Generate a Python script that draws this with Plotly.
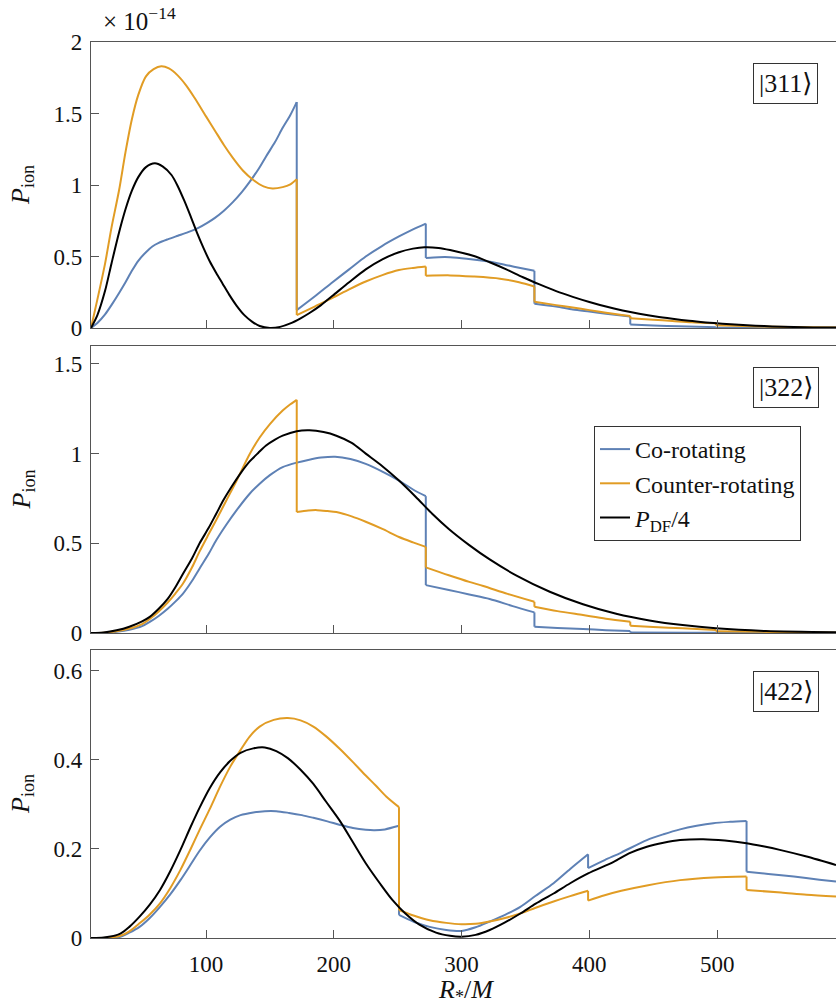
import plotly.graph_objects as go

# ---------------- data ----------------
# |311> state
r311_co = [10, 15, 21, 26, 32, 37, 42, 47, 53, 58, 63, 70, 78, 86, 94, 101, 107, 114, 121, 128, 134, 141, 147, 154, 160, 166, 171,
           171, 185, 199, 212, 225, 238, 251, 262, 272,
           272, 282, 291, 304, 317, 330, 343, 357,
           357, 374, 387, 400, 413, 432,
           432, 450, 470, 499,
           499, 540, 593]
p311_co = [0.0, 0.035, 0.095, 0.16, 0.245, 0.32, 0.40, 0.47, 0.53, 0.57, 0.595, 0.62, 0.645, 0.67, 0.70, 0.735, 0.77, 0.82, 0.88, 0.95, 1.02, 1.11, 1.20, 1.30, 1.40, 1.49, 1.58,
           0.125, 0.22, 0.32, 0.41, 0.50, 0.575, 0.64, 0.69, 0.73,
           0.49, 0.495, 0.495, 0.485, 0.47, 0.45, 0.425, 0.40,
           0.17, 0.15, 0.13, 0.115, 0.10, 0.08,
           0.025, 0.018, 0.012, 0.006,
           0.002, 0.001, 0.0]

r311_ctr = [10, 15, 21, 26, 32, 37, 42, 47, 53, 59, 65, 71, 78, 85, 91, 100, 107, 114, 121, 129, 137, 145, 152, 160, 166, 171,
            171, 185, 199, 212, 225, 238, 251, 262, 272,
            272, 291, 309, 330, 345, 357,
            357, 374, 387, 400, 413, 432,
            432, 450, 465, 480, 499,
            499, 520, 543, 570, 593]
p311_ctr = [0.0, 0.2, 0.45, 0.70, 0.965, 1.23, 1.46, 1.63, 1.76, 1.81, 1.83, 1.815, 1.765, 1.69, 1.61, 1.48, 1.38, 1.28, 1.19, 1.10, 1.035, 0.99, 0.975, 0.985, 1.005, 1.04,
            0.09, 0.15, 0.21, 0.27, 0.325, 0.37, 0.405, 0.42, 0.43,
            0.365, 0.368, 0.36, 0.345, 0.32, 0.29,
            0.184, 0.16, 0.143, 0.125, 0.107, 0.084,
            0.068, 0.058, 0.049, 0.04, 0.033,
            0.02, 0.014, 0.009, 0.005, 0.003]

r311_df = [10, 15, 21, 26, 32, 37, 42, 47, 53, 60, 66, 73, 78, 83, 88, 93, 98, 103, 108, 113, 118, 124, 130, 136, 142, 150, 158, 166, 174, 181, 190, 199,
           212, 225, 238, 251, 262, 271, 282, 291, 309, 322, 335, 348, 361, 374, 387, 400, 413, 426, 439, 452, 465, 478, 491,
           504, 517, 530, 543, 560, 575, 593]
p311_df = [0.0, 0.09, 0.26, 0.45, 0.67, 0.83, 0.96, 1.055, 1.125, 1.152, 1.13, 1.07, 0.99, 0.89, 0.78, 0.665, 0.56, 0.465, 0.385, 0.31, 0.235, 0.155, 0.09, 0.045, 0.014, 0.0, 0.008, 0.032, 0.068, 0.105, 0.16, 0.225,
           0.32, 0.41, 0.48, 0.53, 0.555, 0.565, 0.56, 0.545, 0.505, 0.46, 0.41, 0.355, 0.305, 0.258, 0.218, 0.182, 0.15, 0.123, 0.10, 0.08, 0.064, 0.05, 0.039,
           0.03, 0.022, 0.016, 0.011, 0.007, 0.004, 0.003]

# |322> state
r322_co = [10, 20, 30, 40, 50, 56, 63, 70, 76, 82, 89, 95, 102, 108, 116, 124, 134, 142, 150, 160, 171, 180, 190, 201, 213, 225, 238, 251, 262, 272,
           272, 290, 306, 322, 340, 357,
           357, 375, 395, 413, 432,
           432, 480, 593]
p322_co = [0.0, 0.001, 0.007, 0.018, 0.038, 0.062, 0.095, 0.135, 0.175, 0.22, 0.29, 0.36, 0.44, 0.517, 0.605, 0.685, 0.775, 0.832, 0.88, 0.925, 0.95, 0.965, 0.978, 0.983, 0.97, 0.943, 0.90, 0.85, 0.80, 0.763,
           0.267, 0.24, 0.215, 0.19, 0.15, 0.115,
           0.035, 0.028, 0.022, 0.016, 0.011,
           0.003, 0.002, 0.0]

r322_ctr = [10, 20, 30, 40, 50, 56, 63, 70, 76, 82, 89, 95, 102, 108, 116, 124, 134, 142, 150, 160, 166, 171,
            171, 180, 187, 195, 202, 214, 225, 238, 251, 262, 272,
            272, 290, 306, 317, 336, 357,
            357, 375, 395, 413, 432,
            432, 450, 473, 499,
            499, 540, 593]
p322_ctr = [0.0, 0.002, 0.01, 0.025, 0.05, 0.078, 0.12, 0.17, 0.22, 0.276, 0.365, 0.455, 0.55, 0.63, 0.74, 0.85, 0.995, 1.09, 1.165, 1.24, 1.275, 1.30,
            0.674, 0.683, 0.685, 0.68, 0.674, 0.65, 0.62, 0.58, 0.535, 0.505, 0.48,
            0.366, 0.322, 0.285, 0.262, 0.218, 0.174,
            0.146, 0.122, 0.10, 0.08, 0.063,
            0.041, 0.034, 0.026, 0.017,
            0.01, 0.006, 0.002]

r322_df = [10, 20, 30, 40, 50, 56, 63, 70, 76, 82, 89, 95, 102, 108, 114, 120, 127, 134, 141, 147, 154, 160, 171, 181, 192, 202, 214, 225, 238,
           251, 264, 277, 290, 306, 322, 343, 369, 395, 421, 447, 473, 499, 538, 593]
p322_df = [0.0, 0.003, 0.015, 0.035, 0.065, 0.09, 0.135, 0.19, 0.255, 0.33, 0.415, 0.50, 0.585, 0.665, 0.745, 0.815, 0.89, 0.955, 1.005, 1.045, 1.078, 1.10, 1.125, 1.13, 1.12, 1.10, 1.06, 1.00, 0.93,
           0.85, 0.76, 0.665, 0.58, 0.49, 0.41, 0.32, 0.23, 0.16, 0.107, 0.07, 0.044, 0.026, 0.011, 0.004]

# |422> state
r422_co = [10, 20, 33, 40, 48, 56, 64, 72, 80, 88, 95, 103, 111, 119, 127, 137, 146, 155, 165, 175, 184, 195, 205, 215, 225, 232, 240, 251,
           251, 263, 275, 288, 300, 311, 322, 334, 346, 358, 372, 385, 399,
           399, 412, 425, 445, 458, 471, 484, 497, 510, 523,
           523, 540, 560, 580, 593]
p422_co = [0.0, 0.0, 0.003, 0.012, 0.025, 0.045, 0.07, 0.098, 0.13, 0.165, 0.196, 0.226, 0.25, 0.266, 0.276, 0.282, 0.285, 0.285, 0.281, 0.276, 0.27, 0.262, 0.254, 0.247, 0.243, 0.242, 0.244, 0.252,
           0.052, 0.036, 0.025, 0.018, 0.016, 0.024, 0.037, 0.052, 0.07, 0.095, 0.123, 0.155, 0.188,
           0.157, 0.175, 0.192, 0.22, 0.233, 0.244, 0.252, 0.258, 0.261, 0.263,
           0.149, 0.144, 0.138, 0.131, 0.127]

r422_ctr = [10, 20, 33, 40, 48, 56, 64, 72, 80, 88, 95, 103, 111, 119, 127, 134, 142, 153, 164, 174, 184, 194, 205, 215, 225, 233, 241, 251,
            251, 263, 275, 288, 300, 311, 322, 334, 346, 358, 372, 385, 399,
            399, 412, 425, 445, 471, 497, 523,
            523, 550, 570, 593]
p422_ctr = [0.0, 0.0, 0.005, 0.015, 0.033, 0.053, 0.078, 0.112, 0.153, 0.20, 0.243, 0.29, 0.34, 0.385, 0.422, 0.452, 0.475, 0.49, 0.494, 0.489, 0.475, 0.453, 0.424, 0.395, 0.365, 0.342, 0.318, 0.294,
            0.063, 0.05, 0.04, 0.034, 0.031, 0.032, 0.037, 0.045, 0.055, 0.068, 0.082, 0.094, 0.106,
            0.084, 0.096, 0.106, 0.118, 0.13, 0.136, 0.138,
            0.108, 0.102, 0.097, 0.093]

r422_df = [10, 20, 33, 40, 48, 56, 64, 72, 80, 88, 95, 103, 111, 119, 127, 137, 146, 155, 164, 174, 184, 194, 205, 215, 225, 236, 246, 256, 267, 280,
           291, 300, 311, 322, 334, 346, 358, 372, 385, 399, 419, 431, 445, 458, 471, 489, 506, 523, 536, 549, 570, 593]
p422_df = [0.0, 0.001, 0.01, 0.025, 0.048, 0.075, 0.108, 0.15, 0.198, 0.25, 0.293, 0.337, 0.372, 0.398, 0.416, 0.426, 0.428, 0.42, 0.404, 0.378, 0.346, 0.306, 0.262, 0.215, 0.168, 0.123, 0.085, 0.055, 0.030, 0.012,
           0.005, 0.003, 0.007, 0.018, 0.035, 0.055, 0.077, 0.10, 0.123, 0.145, 0.171, 0.19, 0.205, 0.214, 0.22, 0.222, 0.219, 0.213, 0.206, 0.198, 0.183, 0.164]

state_labels = ["|311⟩", "|322⟩", "|422⟩"]
series_names = ["Co-rotating", "Counter-rotating", "<i>P</i><sub>DF</sub>/4"]
x_ticks = [100, 200, 300, 400, 500]
y_ticks = [[0, 0.5, 1, 1.5, 2], [0, 0.5, 1, 1.5], [0, 0.2, 0.4, 0.6]]
y_ticktext = [["0", "0.5", "1", "1.5", "2"], ["0", "0.5", "1", "1.5"], ["0", "0.2", "0.4", "0.6"]]
y_ranges = [[0, 2], [0, 1.6], [0, 0.647]]
x_range = [10, 593]

# ---------------- styling ----------------
BLUE = "#5E81B5"
ORANGE = "#E19C24"
BLACK = "#000000"
AX = "#555555"
TXT = "#111111"
FONT = "Liberation Serif, DejaVu Serif, serif"

# pixel layout of the three panels (fig 836 x 1006, plot area x 91..836)
W, H = 836, 1006
L = 91
panel_px = [(42, 328), (346, 633), (650, 938)]

fig = go.Figure()

panels = [
    [(r311_co, p311_co), (r311_ctr, p311_ctr), (r311_df, p311_df)],
    [(r322_co, p322_co), (r322_ctr, p322_ctr), (r322_df, p322_df)],
    [(r422_co, p422_co), (r422_ctr, p422_ctr), (r422_df, p422_df)],
]
colors = [BLUE, ORANGE, BLACK]


def split_segments(xs, ys):
    """Split a curve at repeated x values (vertical jumps)."""
    segs, jumps = [], []
    start = 0
    for i in range(1, len(xs)):
        if xs[i] == xs[i - 1]:
            segs.append((xs[start:i], ys[start:i]))
            jumps.append(((xs[i - 1], xs[i]), (ys[i - 1], ys[i])))
            start = i
    segs.append((xs[start:], ys[start:]))
    return segs, jumps


for pi, series in enumerate(panels):
    xa = "x" if pi == 0 else f"x{pi + 1}"
    ya = "y" if pi == 0 else f"y{pi + 1}"
    for si, (xs, ys) in enumerate(series):
        segs, jumps = split_segments(xs, ys)
        first = True
        for sx, sy in segs:
            fig.add_trace(go.Scatter(
                x=sx, y=sy, mode="lines", xaxis=xa, yaxis=ya,
                line=dict(color=colors[si], width=2, shape="spline", smoothing=0.8),
                name=series_names[si], legendgroup=series_names[si],
                showlegend=(pi == 1 and first), hoverinfo="skip"))
            first = False
        for jx, jy in jumps:
            fig.add_trace(go.Scatter(
                x=list(jx), y=list(jy), mode="lines", xaxis=xa, yaxis=ya,
                line=dict(color=colors[si], width=2),
                legendgroup=series_names[si], showlegend=False, hoverinfo="skip"))

# axes
for pi, (top, bot) in enumerate(panel_px):
    dom = [1 - bot / H, 1 - top / H]
    xkey = "xaxis" if pi == 0 else f"xaxis{pi + 1}"
    ykey = "yaxis" if pi == 0 else f"yaxis{pi + 1}"
    anchor_x = "y" if pi == 0 else f"y{pi + 1}"
    anchor_y = "x" if pi == 0 else f"x{pi + 1}"
    fig.update_layout(**{
        xkey: dict(domain=[0, 1], anchor=anchor_x, range=x_range,
                   tickvals=x_ticks, ticks="inside", ticklen=8, tickwidth=1, tickcolor=AX,
                   showticklabels=(pi == 2), ticklabelstandoff=5,
                   showline=True, linecolor=AX, linewidth=1.3,
                   mirror=True, showgrid=False, zeroline=False,
                   tickfont=dict(family=FONT, size=23, color=TXT)),
        ykey: dict(domain=dom, anchor=anchor_y, range=y_ranges[pi],
                   tickvals=y_ticks[pi], ticktext=y_ticktext[pi],
                   ticks="inside", ticklen=8, tickwidth=1, tickcolor=AX,
                   ticklabelstandoff=3,
                   showline=True, linecolor=AX, linewidth=1.3, mirror=False,
                   showgrid=False, zeroline=False,
                   tickfont=dict(family=FONT, size=23, color=TXT)),
    })

annotations = []
for pi, (top, bot) in enumerate(panel_px):
    # y-axis title
    annotations.append(dict(
        text="<i>P</i><sub>ion</sub>", xref="paper", yref="paper",
        x=(22 - L) / (W - L), y=1 - (top + bot) / 2 / H, textangle=-90,
        showarrow=False, font=dict(family=FONT, size=26, color=TXT),
        xanchor="center", yanchor="middle"))
    # state label box
    annotations.append(dict(
        text=state_labels[pi], xref="paper", yref="paper",
        x=(785.5 - L) / (W - L), y=1 - (top + 41.5) / H,
        showarrow=False, bordercolor="#333", borderwidth=1, borderpad=5,
        bgcolor="white", font=dict(family=FONT, size=26, color=TXT),
        xanchor="center", yanchor="middle"))

annotations.append(dict(
    text="<i>R</i><sub>*</sub>/<i>M</i>", xref="paper", yref="paper",
    x=(466 - L) / (W - L), y=1 - 991 / H, showarrow=False,
    font=dict(family=FONT, size=26, color=TXT), xanchor="center", yanchor="middle"))
annotations.append(dict(
    text="× 10<sup>−14</sup>", xref="paper", yref="paper",
    x=(101 - L) / (W - L), y=1 - 19 / H, showarrow=False,
    font=dict(family=FONT, size=25, color=TXT), xanchor="left", yanchor="middle"))

fig.update_layout(
    width=W, height=H,
    margin=dict(l=L, r=0, t=0, b=0, autoexpand=False),
    paper_bgcolor="white", plot_bgcolor="white",
    font=dict(family=FONT, size=20, color=TXT),
    annotations=annotations,
    legend=dict(x=(594 - L) / (W - L), y=1 - 426 / H, xanchor="left", yanchor="top",
                bgcolor="white", bordercolor="#333", borderwidth=1,
                font=dict(family=FONT, size=24, color=TXT),
                tracegroupgap=0, itemwidth=30),
)

fig.write_html("out.html")
